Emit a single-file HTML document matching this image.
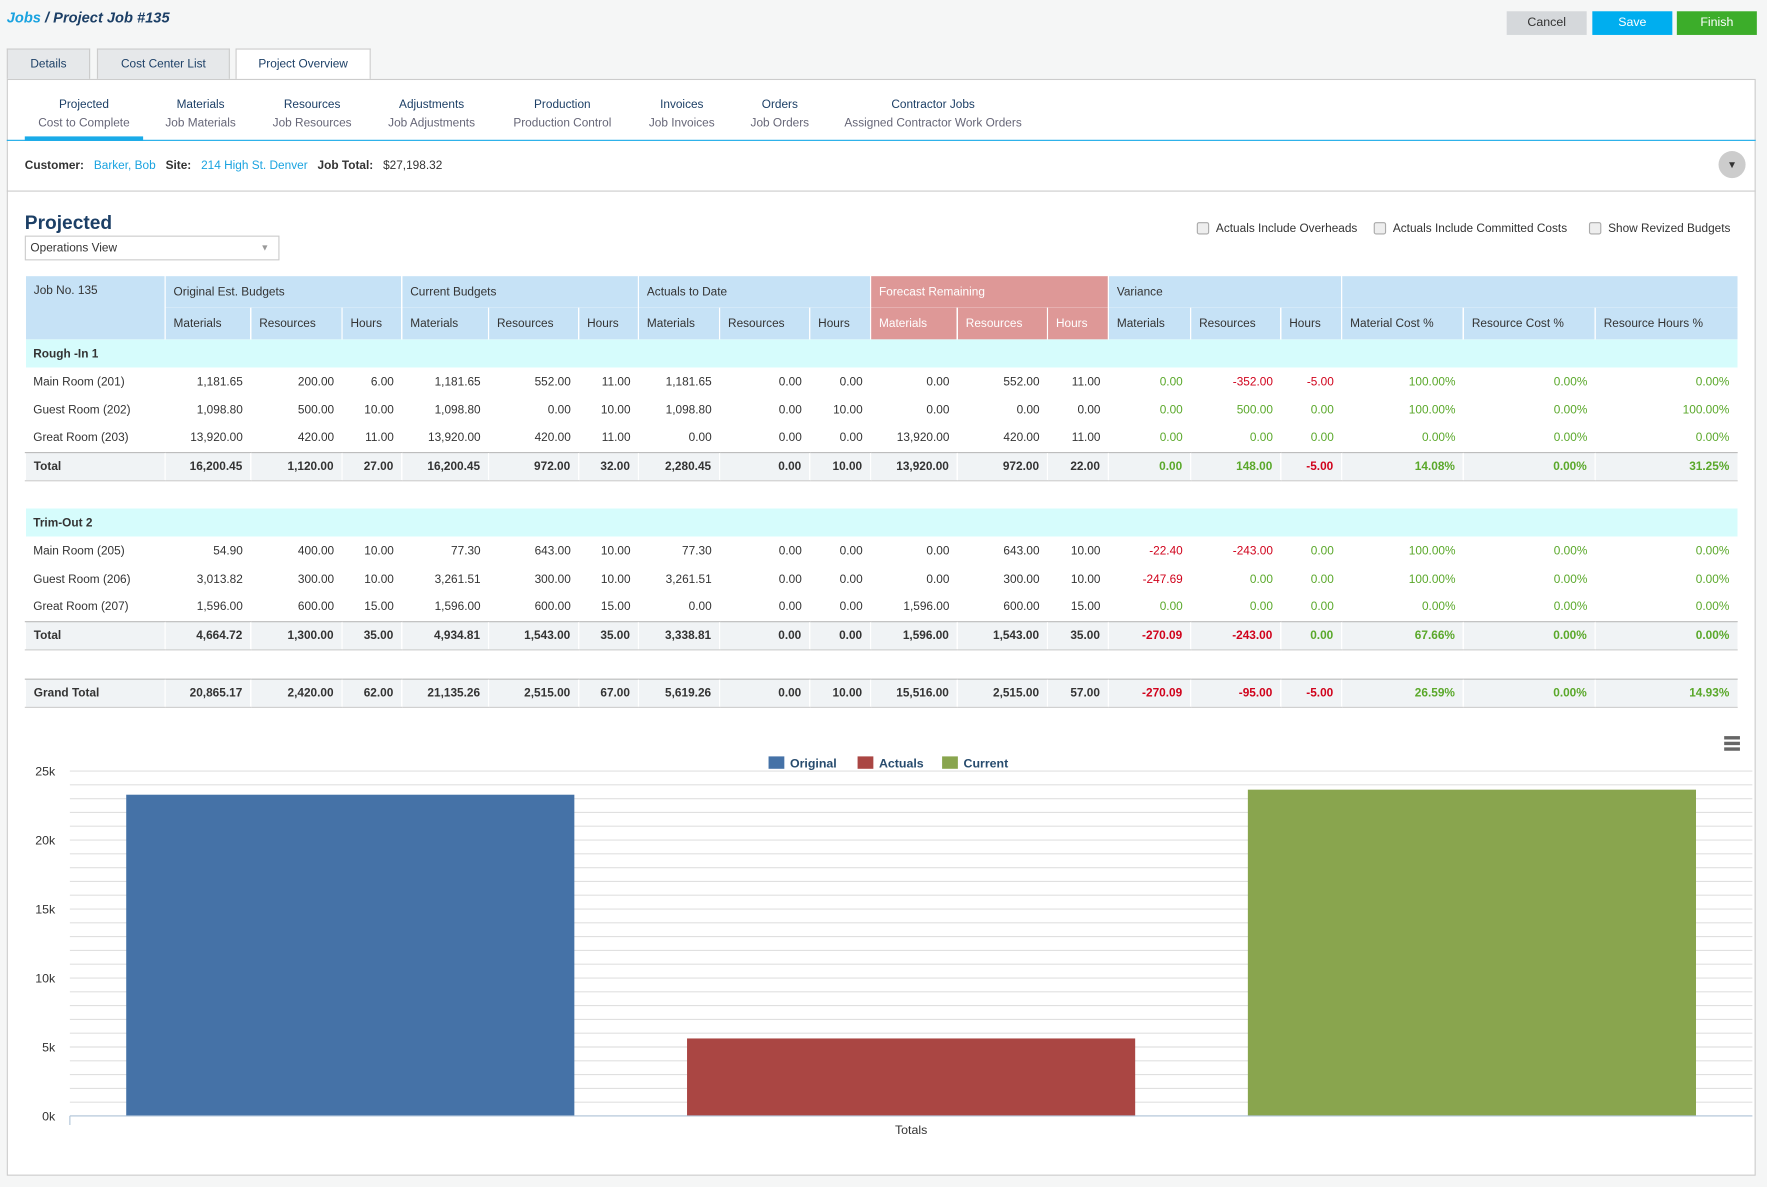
<!DOCTYPE html>
<html><head><meta charset="utf-8">
<style>
html,body{margin:0;padding:0;background:#f5f6f6;width:1767px;height:1187px;overflow:hidden;font-family:"Liberation Sans",sans-serif;}
#wrap{position:absolute;left:0;top:0;width:1568px;height:1053px;transform:scale(1.12691,1.12726);transform-origin:0 0;font-size:10.5px;color:#333;}
.abs{position:absolute;}
.btn{position:absolute;top:10px;height:21px;width:71px;line-height:21px;text-align:center;font-size:11px;}
.tab{position:absolute;top:43px;height:27px;line-height:27px;text-align:center;background:#e6e8ea;border:1px solid #ccc;border-bottom:none;box-sizing:border-box;color:#1c3f66;}
#panel{position:absolute;left:6px;top:70px;width:1552px;height:973px;background:#fff;border:1px solid #ccc;box-sizing:border-box;}
.sub{position:absolute;top:85px;text-align:center;line-height:16px;color:#1c3f66;}
.sub span{color:#667;display:block}
table{position:absolute;left:22px;top:245px;border-collapse:collapse;table-layout:fixed;width:1519px;}
td{height:25px;padding:0 7px;white-space:nowrap;overflow:hidden;text-align:right;font-size:10.5px;box-sizing:border-box;}
tr.h td{background:#c6e2f6;text-align:left;height:28px;border-left:1px solid #fff;}
tr.h td.f{background:#de9897;color:#fff;}
tr.sec td{background:#d6fcfc;text-align:left;font-weight:bold;}
tr.tot td{background:#f0f3f5;font-weight:bold;border-top:1px solid #bbb;border-bottom:1px solid #ccc;border-left:1px solid #fff;}
tr td:first-child{text-align:left;}
.g{color:#5aa82a}.r{color:#d0021b}
.cb{display:inline-block;width:9px;height:9px;border:1px solid #aaa;border-radius:2px;background:#eee;vertical-align:-2px;margin-right:6px;}
</style></head><body>
<div id="wrap">
<div class="abs" style="left:6px;top:8px;font-size:13px;font-weight:bold;font-style:italic;color:#1c3f66"><span style="color:#1aa3e0">Jobs</span> / Project Job #135</div>
<div class="btn" style="left:1337px;background:#d5d8db;color:#333">Cancel</div>
<div class="btn" style="left:1413px;background:#00aeef;color:#fff">Save</div>
<div class="btn" style="left:1488px;background:#3cad2a;color:#fff">Finish</div>
<div class="tab" style="left:6px;width:74px">Details</div>
<div class="tab" style="left:86px;width:118px">Cost Center List</div>
<div class="tab" style="left:209px;width:120px;background:#fff;height:29px">Project Overview</div>
<div id="panel"></div>
<div class="sub" style="left:22px;width:105px">Projected<span>Cost to Complete</span></div>
<div class="sub" style="left:138px;width:80px">Materials<span>Job Materials</span></div>
<div class="sub" style="left:237px;width:80px">Resources<span>Job Resources</span></div>
<div class="sub" style="left:338px;width:90px">Adjustments<span>Job Adjustments</span></div>
<div class="sub" style="left:449px;width:100px">Production<span>Production Control</span></div>
<div class="sub" style="left:569px;width:72px">Invoices<span>Job Invoices</span></div>
<div class="sub" style="left:660px;width:64px">Orders<span>Job Orders</span></div>
<div class="sub" style="left:743px;width:170px">Contractor Jobs<span>Assigned Contractor Work Orders</span></div>
<div class="abs" style="left:6px;top:124px;width:1552px;height:1px;background:#1aabe8"></div>
<div class="abs" style="left:22px;top:121px;width:105px;height:4px;background:#1aabe8"></div>
<div class="abs" style="left:22px;top:141px"><b>Customer:</b> &nbsp;&nbsp;<span style="color:#1aa3e0">Barker, Bob</span> &nbsp;&nbsp;<b>Site:</b> &nbsp;&nbsp;<span style="color:#1aa3e0">214 High St. Denver</span> &nbsp;&nbsp;<b>Job Total:</b> &nbsp;&nbsp;$27,198.32</div>
<div class="abs" style="left:1525px;top:134px;width:24px;height:24px;border-radius:12px;background:#ccc;text-align:center;line-height:24px;font-size:9px">▼</div>
<div class="abs" style="left:6px;top:169px;width:1552px;height:1px;background:#ccc"></div>
<div class="abs" style="left:22px;top:188px;font-size:17px;font-weight:bold;color:#1c3f66">Projected</div>
<div class="abs" style="left:22px;top:209px;width:226px;height:22px;border:1px solid #ccc;box-sizing:border-box;line-height:20px;padding-left:4px">Operations View<span style="position:absolute;right:8px;color:#999;font-size:8px">▼</span></div>
<div class="abs" style="left:1062px;top:197px"><span class="cb"></span>Actuals Include Overheads</div>
<div class="abs" style="left:1219px;top:197px"><span class="cb"></span>Actuals Include Committed Costs</div>
<div class="abs" style="left:1410px;top:197px"><span class="cb"></span>Show Revized Budgets</div>

<table>
<colgroup><col style="width:124px"><col style="width:76px"><col style="width:81px"><col style="width:53px"><col style="width:77px"><col style="width:80px"><col style="width:53px"><col style="width:72px"><col style="width:80px"><col style="width:54px"><col style="width:77px"><col style="width:80px"><col style="width:54px"><col style="width:73px"><col style="width:80px"><col style="width:54px"><col style="width:108px"><col style="width:117px"><col style="width:126px"></colgroup>
<tr class="h"><td rowspan="2" style="vertical-align:top;padding-top:7px">Job No. 135</td><td colspan="3">Original Est. Budgets</td><td colspan="3">Current Budgets</td><td colspan="3">Actuals to Date</td><td colspan="3" class="f">Forecast Remaining</td><td colspan="3">Variance</td><td colspan="3"></td></tr>
<tr class="h"><td>Materials</td><td>Resources</td><td>Hours</td><td>Materials</td><td>Resources</td><td>Hours</td><td>Materials</td><td>Resources</td><td>Hours</td><td class="f">Materials</td><td class="f">Resources</td><td class="f">Hours</td><td>Materials</td><td>Resources</td><td>Hours</td><td>Material Cost %</td><td>Resource Cost %</td><td>Resource Hours %</td></tr>
<tr class="sec"><td colspan="19">Rough -In 1</td></tr>
<tr><td>Main Room (201)</td><td>1,181.65</td><td>200.00</td><td>6.00</td><td>1,181.65</td><td>552.00</td><td>11.00</td><td>1,181.65</td><td>0.00</td><td>0.00</td><td>0.00</td><td>552.00</td><td>11.00</td><td class="g">0.00</td><td class="r">-352.00</td><td class="r">-5.00</td><td class="g">100.00%</td><td class="g">0.00%</td><td class="g">0.00%</td></tr>
<tr><td>Guest Room (202)</td><td>1,098.80</td><td>500.00</td><td>10.00</td><td>1,098.80</td><td>0.00</td><td>10.00</td><td>1,098.80</td><td>0.00</td><td>10.00</td><td>0.00</td><td>0.00</td><td>0.00</td><td class="g">0.00</td><td class="g">500.00</td><td class="g">0.00</td><td class="g">100.00%</td><td class="g">0.00%</td><td class="g">100.00%</td></tr>
<tr><td>Great Room (203)</td><td>13,920.00</td><td>420.00</td><td>11.00</td><td>13,920.00</td><td>420.00</td><td>11.00</td><td>0.00</td><td>0.00</td><td>0.00</td><td>13,920.00</td><td>420.00</td><td>11.00</td><td class="g">0.00</td><td class="g">0.00</td><td class="g">0.00</td><td class="g">0.00%</td><td class="g">0.00%</td><td class="g">0.00%</td></tr>
<tr class="tot"><td>Total</td><td>16,200.45</td><td>1,120.00</td><td>27.00</td><td>16,200.45</td><td>972.00</td><td>32.00</td><td>2,280.45</td><td>0.00</td><td>10.00</td><td>13,920.00</td><td>972.00</td><td>22.00</td><td class="g">0.00</td><td class="g">148.00</td><td class="r">-5.00</td><td class="g">14.08%</td><td class="g">0.00%</td><td class="g">31.25%</td></tr>
<tr><td colspan="19"></td></tr>
<tr class="sec"><td colspan="19">Trim-Out 2</td></tr>
<tr><td>Main Room (205)</td><td>54.90</td><td>400.00</td><td>10.00</td><td>77.30</td><td>643.00</td><td>10.00</td><td>77.30</td><td>0.00</td><td>0.00</td><td>0.00</td><td>643.00</td><td>10.00</td><td class="r">-22.40</td><td class="r">-243.00</td><td class="g">0.00</td><td class="g">100.00%</td><td class="g">0.00%</td><td class="g">0.00%</td></tr>
<tr><td>Guest Room (206)</td><td>3,013.82</td><td>300.00</td><td>10.00</td><td>3,261.51</td><td>300.00</td><td>10.00</td><td>3,261.51</td><td>0.00</td><td>0.00</td><td>0.00</td><td>300.00</td><td>10.00</td><td class="r">-247.69</td><td class="g">0.00</td><td class="g">0.00</td><td class="g">100.00%</td><td class="g">0.00%</td><td class="g">0.00%</td></tr>
<tr><td>Great Room (207)</td><td>1,596.00</td><td>600.00</td><td>15.00</td><td>1,596.00</td><td>600.00</td><td>15.00</td><td>0.00</td><td>0.00</td><td>0.00</td><td>1,596.00</td><td>600.00</td><td>15.00</td><td class="g">0.00</td><td class="g">0.00</td><td class="g">0.00</td><td class="g">0.00%</td><td class="g">0.00%</td><td class="g">0.00%</td></tr>
<tr class="tot"><td>Total</td><td>4,664.72</td><td>1,300.00</td><td>35.00</td><td>4,934.81</td><td>1,543.00</td><td>35.00</td><td>3,338.81</td><td>0.00</td><td>0.00</td><td>1,596.00</td><td>1,543.00</td><td>35.00</td><td class="r">-270.09</td><td class="r">-243.00</td><td class="g">0.00</td><td class="g">67.66%</td><td class="g">0.00%</td><td class="g">0.00%</td></tr>
<tr><td colspan="19" style="height:26px"></td></tr>
<tr class="tot"><td>Grand Total</td><td>20,865.17</td><td>2,420.00</td><td>62.00</td><td>21,135.26</td><td>2,515.00</td><td>67.00</td><td>5,619.26</td><td>0.00</td><td>10.00</td><td>15,516.00</td><td>2,515.00</td><td>57.00</td><td class="r">-270.09</td><td class="r">-95.00</td><td class="r">-5.00</td><td class="g">26.59%</td><td class="g">0.00%</td><td class="g">14.93%</td></tr>
</table>

<svg id="chart" class="abs" style="left:0;top:640px" width="1568" height="400"></svg>
</div>
<script>
const categories = ["Totals"];
const seriesNames = ["Original", "Actuals", "Current"];
const seriesValues = [23285.17, 5619.26, 23650.26];
const seriesColors = ["#4572a7", "#aa4643", "#89a54e"];
const yTicks = [0, 5000, 10000, 15000, 20000, 25000];
const yTickLabels = ["0k", "5k", "10k", "15k", "20k", "25k"];
const yMax = 25000, gridStep = 1000;

const svg = document.getElementById('chart');
const NS = 'http://www.w3.org/2000/svg';
const L = 62, R = 1555, T = 44, B = 350;
function y(v){ return B - (v / yMax) * (B - T); }
function mk(tag, attrs){ const e = document.createElementNS(NS, tag); for (const k in attrs) e.setAttribute(k, attrs[k]); svg.appendChild(e); return e; }
for (let v = 0; v <= yMax; v += gridStep) {
  const g = mk('line', {x1: L, x2: R, y1: y(v), y2: y(v), stroke: '#e0e0e0', 'stroke-width': 1});
  
  
}
yTicks.forEach((v, i) => {
  const t = mk('text', {x: 49, y: y(v) + 4, 'text-anchor': 'end', 'font-size': 11, fill: '#333', 'font-family': 'Liberation Sans, sans-serif'});
  t.textContent = yTickLabels[i];
  
  
});
const groupW = (R - L) / categories.length;
const pad = 50, gap = 100;
const n = seriesValues.length;
const barW = (groupW - 2 * pad - (n - 1) * gap) / n;
categories.forEach((c, ci) => {
  seriesValues.forEach((v, si) => {
    const x = L + ci * groupW + pad + si * (barW + gap);
    const b = mk('rect', {x: x, y: y(v), width: barW, height: B - y(v), fill: seriesColors[si]});
    
    
  });
  const t = mk('text', {x: L + ci * groupW + groupW / 2, y: B + 16, 'text-anchor': 'middle', 'font-size': 11, fill: '#333', 'font-family': 'Liberation Sans, sans-serif'});
  t.textContent = c;
  
  
});
const ax = mk('line', {x1: L, x2: R, y1: B, y2: B, stroke: '#b0c4d8', 'stroke-width': 1});


mk('line', {x1: L, x2: L, y1: B, y2: B + 8, stroke: '#b0c4d8'});
let lx = 682;
const legW = [60, 56, 60];
seriesNames.forEach((s, i) => {
  const r = mk('rect', {x: lx, y: 31, width: 14, height: 11, fill: seriesColors[i]});
  
  
  const t = mk('text', {x: lx + 19, y: 41, 'font-size': 11, 'font-weight': 'bold', fill: '#274b6d', 'font-family': 'Liberation Sans, sans-serif'});
  t.textContent = s;
  
  
  lx += 19 + legW[i];
});
[0,5,10].forEach(d => { const m = mk('rect', {x: 1530, y: 13 + d, width: 14, height: 3, fill: '#666'});   });
</script>
</body></html>
